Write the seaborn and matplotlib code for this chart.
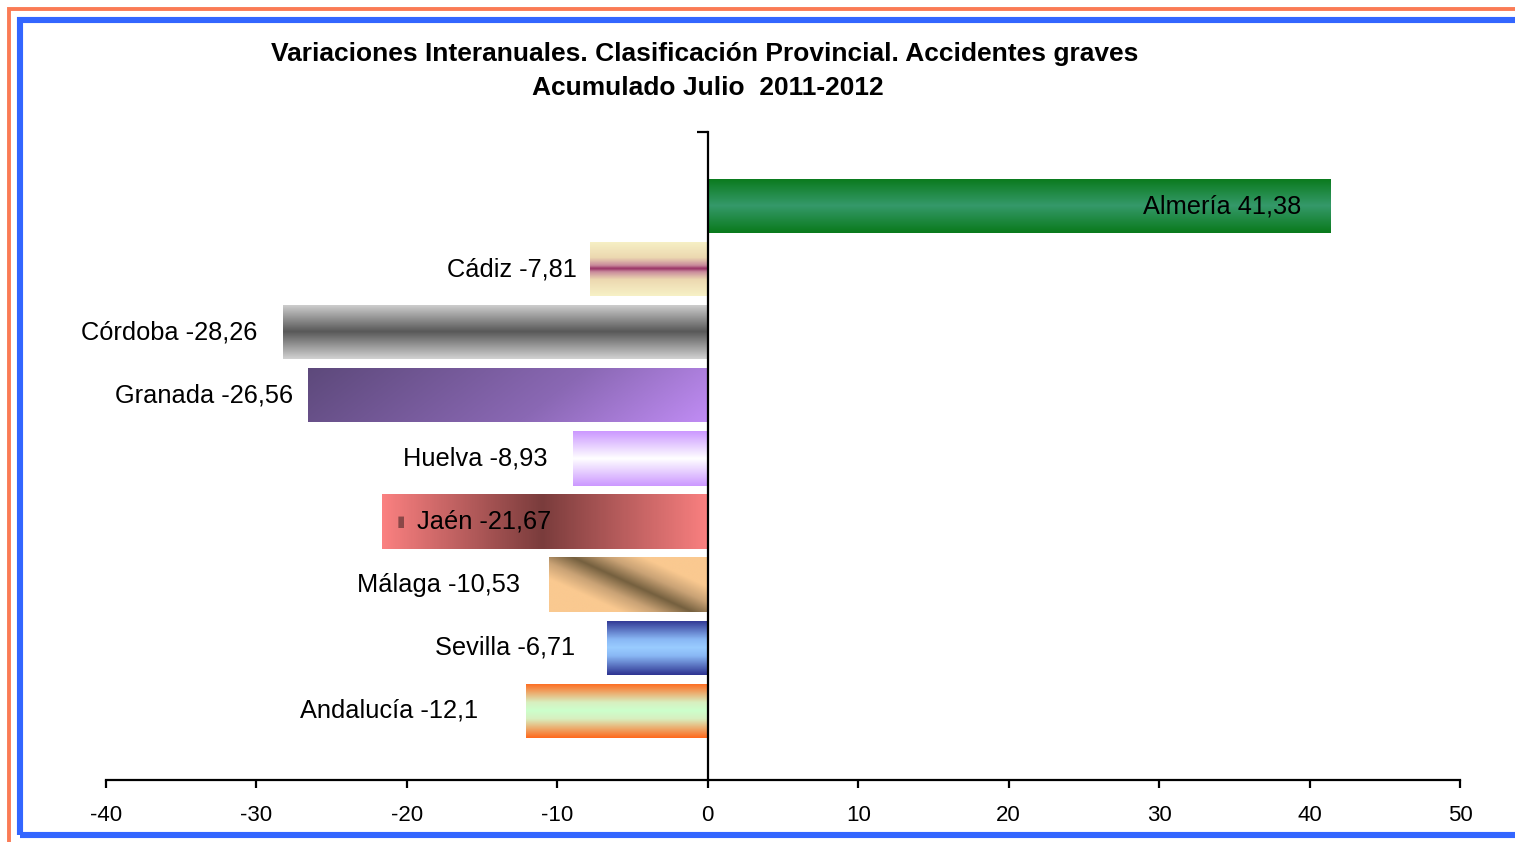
import numpy as np
import matplotlib
matplotlib.use("Agg")
import matplotlib.pyplot as plt
import matplotlib.colors as mcolors
from matplotlib.patches import Rectangle
import seaborn as sns

# --- data ---
provincias = ['Almería', 'Cádiz', 'Córdoba', 'Granada', 'Huelva',
              'Jaén', 'Málaga', 'Sevilla', 'Andalucía']
variacion = [41.38, -7.81, -28.26, -26.56, -8.93, -21.67, -10.53, -6.71, -12.1]
xticks = [-40, -30, -20, -10, 0, 10, 20, 30, 40, 50]
titulo_1 = "Variaciones Interanuales. Clasificación Provincial. Accidentes graves"
titulo_2 = "Acumulado Julio  2011-2012"

# label offsets from bar end (pixels) and alignment
label_offsets = [-29, -13, -25, -15, -26, 35, -29, -32, -48]
label_align = ['right', 'right', 'right', 'right', 'right', 'left', 'right', 'right', 'right']

# gradient fills: (function of u,v -> t, colour stops)
def vert(u, v):
    return v + 0 * u

def horiz(u, v):
    return u + 0 * v

def granada_dir(u, v):
    return np.clip(0.85 * u + 0.15 * v, 0, 1)

def malaga_dir(u, v):
    return np.clip(np.abs(u - 0.15 - 0.75 * v) / 0.45, 0, 1)

fills = [
    (vert, [(0, '#0a7a1c'), (0.5, '#35996a'), (1, '#0a7a1c')]),
    (vert, [(0, '#f7f1c6'), (0.3, '#ecd8b0'), (0.44, '#c98a9c'),
            (0.5, '#993366'), (0.56, '#c98a9c'), (0.7, '#ecd8b0'), (1, '#f7f1c6')]),
    (vert, [(0, '#d0d0d0'), (0.5, '#585858'), (1, '#d0d0d0')]),
    (granada_dir, [(0, '#5d497b'), (0.6, '#8a68b4'), (1, '#c08cf4')]),
    (vert, [(0, '#cc99ff'), (0.5, '#ffffff'), (1, '#cc99ff')]),
    (horiz, [(0, '#fa8080'), (0.49, '#7a3c3c'), (1, '#fa8080')]),
    (malaga_dir, [(0, '#75603f'), (0.5, '#c9a275'), (1, '#fac990')]),
    (vert, [(0, '#2f3592'), (0.35, '#8ab8f5'), (0.5, '#99ccff'),
            (0.65, '#8ab8f5'), (1, '#2f3592')]),
    (vert, [(0, '#ff6a1e'), (0.35, '#d8f0c0'), (0.5, '#ccffcc'),
            (0.65, '#d8f0c0'), (1, '#ff6a1e')]),
]

sns.set_style("white")
plt.rcParams['font.family'] = ['Liberation Sans', 'DejaVu Sans']
plt.rcParams['text.color'] = 'black'
plt.rcParams['xtick.color'] = 'black'
plt.rcParams['ytick.color'] = 'black'
plt.rcParams['axes.edgecolor'] = 'black'

fig = plt.figure(figsize=(15.15, 8.42), dpi=100)
W, H = 1515, 842
ax = fig.add_axes([106 / W, 1 - 780 / H, (1460 - 106) / W, (780 - 132) / H])

sns.barplot(x=variacion, y=provincias, orient='h', ax=ax, width=0.86,
            color='white', saturation=1, edgecolor='none', linewidth=0)

# gradient fills clipped to each bar
for patch, (func, stops) in zip(ax.patches, fills):
    bb = patch.get_bbox()
    x0, x1 = sorted([bb.x0, bb.x1])
    y0, y1 = sorted([bb.y0, bb.y1])
    u = np.linspace(0, 1, 300)[None, :]
    v = np.linspace(0, 1, 80)[:, None]
    t = func(u, v)
    cmap = mcolors.LinearSegmentedColormap.from_list('g', stops)
    img = cmap(t)
    im = ax.imshow(img, extent=(x0, x1, y1, y0), origin='upper',
                   aspect='auto', interpolation='bilinear', zorder=1)
    im.set_clip_path(patch)

# labels
for i, (name, val) in enumerate(zip(provincias, variacion)):
    txt = f"{name} {str(val).replace('.', ',')}"
    ax.annotate(txt, xy=(val, i), xytext=(label_offsets[i], 0),
                textcoords='offset pixels', ha=label_align[i], va='center',
                fontsize=18.3, color='black', zorder=5)

# small key glyph inside the Jaén bar
j = provincias.index('Jaén')
ax.annotate('▮', xy=(variacion[j], j), xytext=(15, 0), textcoords='offset pixels',
            ha='left', va='center', fontsize=11, color='#8a4848',
            family='DejaVu Sans', zorder=5)

ylim_top, ylim_bot = -1.173, 9.097
ax.set_xlim(-40, 50)
ax.set_ylim(ylim_bot, ylim_top)
ax.set_xticks(xticks)
ax.set_xticklabels([str(t) for t in xticks], fontsize=16, color='black')
ax.set_yticks([ylim_top])
ax.set_yticklabels([''])
ax.set_xlabel('')
ax.set_ylabel('')

for s in ['top', 'right']:
    ax.spines[s].set_visible(False)
ax.spines['left'].set_position(('data', 0))
ax.spines['left'].set_linewidth(1.6)
ax.spines['bottom'].set_linewidth(1.6)
ax.spines['left'].set_zorder(4)
ax.tick_params(axis='x', bottom=True, direction='out', length=6, width=1.6,
               pad=12, colors='black')
ax.tick_params(axis='y', left=True, direction='out', length=8, width=1.6,
               colors='black')
ax.set_facecolor('none')

# title
fig.text(705 / W, 1 - 54 / H, titulo_1, ha='center', va='center',
         fontsize=19, fontweight='bold', color='black')
fig.text(708 / W, 1 - 88 / H, titulo_2, ha='center', va='center',
         fontsize=19, fontweight='bold', color='black')

# frames
fig.add_artist(Rectangle((8.5 / W, -0.1), 1.2, 1 - 8.5 / H + 0.1,
                         transform=fig.transFigure, fill=False,
                         edgecolor='#fa7b55', linewidth=2.8, zorder=0))
fig.add_artist(Rectangle((20 / W, 1 - 835 / H), 1.2, (835 - 20) / H,
                         transform=fig.transFigure, fill=False,
                         edgecolor='#3366ff', linewidth=4.4, zorder=0))

fig.savefig("out.png", dpi=100)
